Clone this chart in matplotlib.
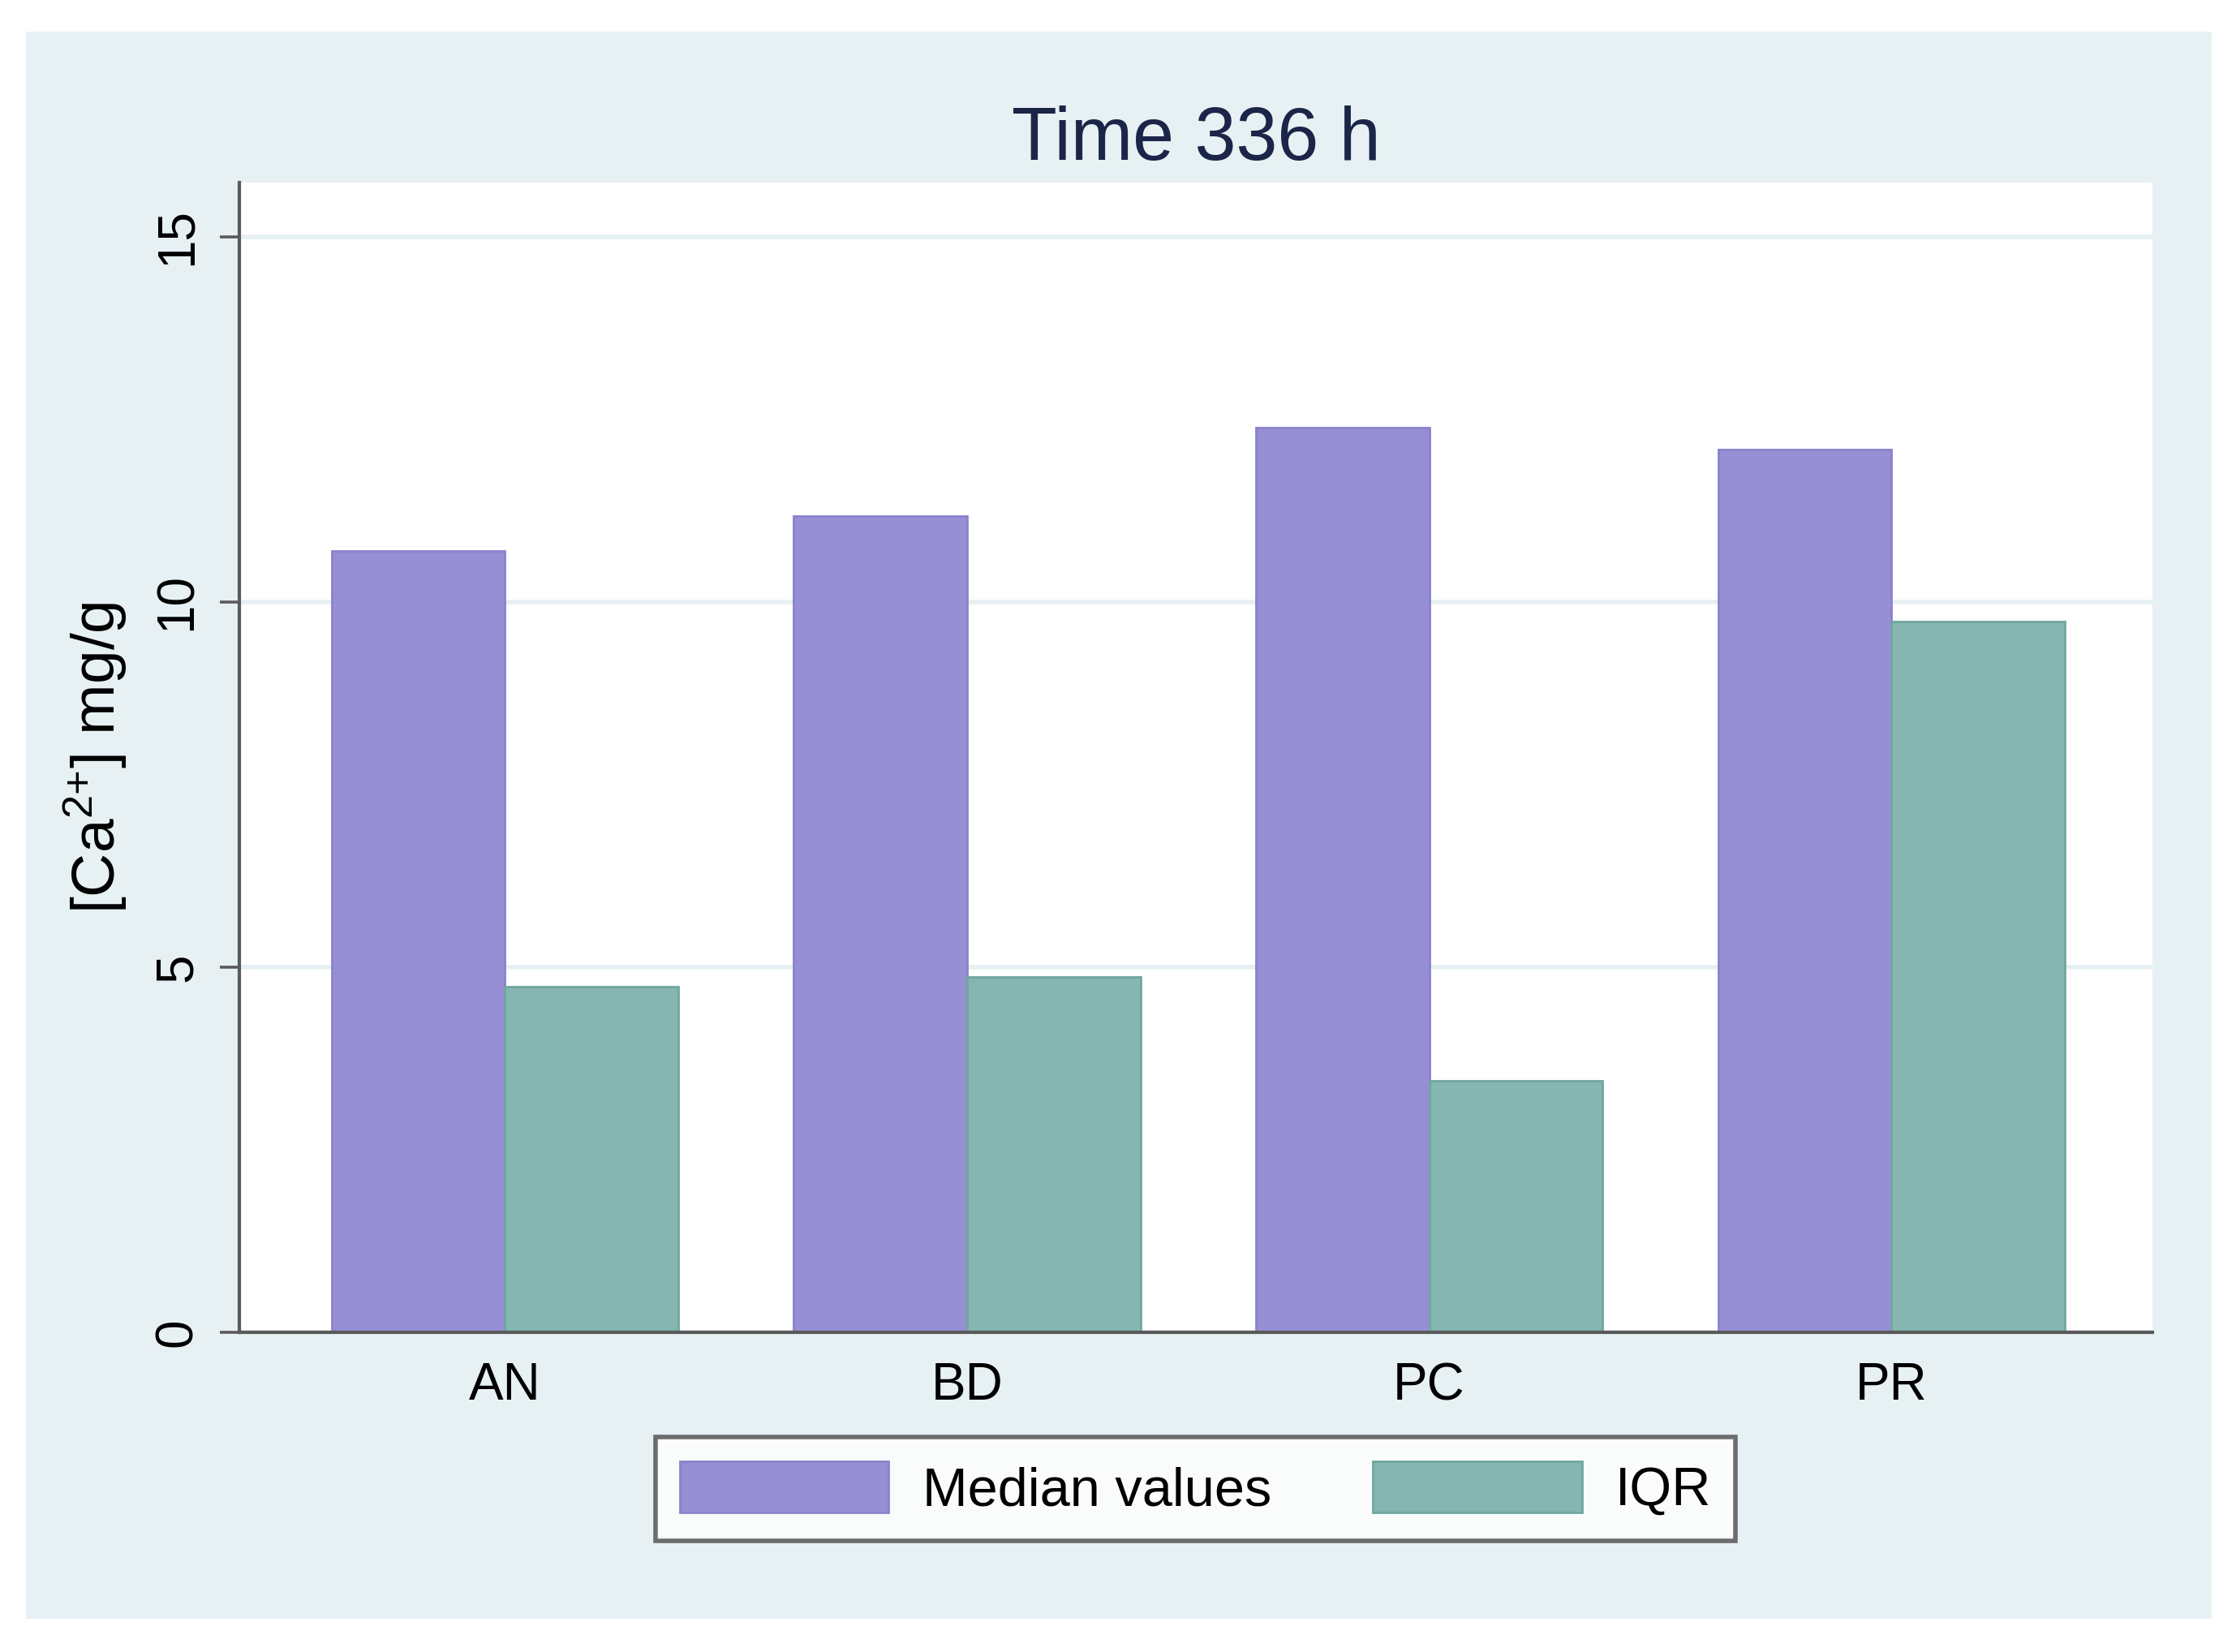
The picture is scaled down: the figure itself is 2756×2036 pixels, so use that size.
import numpy as np
import matplotlib
matplotlib.use("Agg")
import matplotlib.pyplot as plt
from matplotlib.patches import Rectangle

plt.rcParams['font.family'] = ['Liberation Sans', 'DejaVu Sans']
plt.rcParams['mathtext.default'] = 'regular'

# ===== data =====
categories = ['AN', 'BD', 'PC', 'PR']
median_values = [10.70, 11.17, 12.38, 12.09]
iqr_values = [4.73, 4.86, 3.44, 9.73]
series_labels = ['Median values', 'IQR']
y_ticks = [0, 5, 10, 15]

# ===== colours =====
bg_color = '#e7f1f3'
purple = '#978fd4'
teal = '#85b6b1'
spine_color = '#5a5a5a'

fig = plt.figure(figsize=(13.78, 10.18), dpi=200, facecolor='white')

# 外框背景（Stata 风格的浅蓝色图区）
fig.patches.append(Rectangle((0.0116, 0.0201), 0.9775, 0.9607,
                             transform=fig.transFigure, facecolor=bg_color,
                             edgecolor='none', zorder=-10))

ax = fig.add_axes([0.1070, 0.1935, 0.8556, 0.6960])
ax.set_facecolor('white')

x = np.arange(len(categories))
w = 0.375
b1 = ax.bar(x - w / 2, median_values, w, color=purple, edgecolor='#8a82cc',
            linewidth=1.0, label=series_labels[0], zorder=3)
b2 = ax.bar(x + w / 2, iqr_values, w, color=teal, edgecolor='#70a69f',
            linewidth=1.0, label=series_labels[1], zorder=3)

ax.set_xlim(-0.575, 3.565)
ax.set_ylim(0, 15.74)

ax.set_xticks(x)
ax.set_xticklabels(categories, fontsize=23)
ax.tick_params(axis='x', length=0, pad=13)

ax.set_yticks(y_ticks)
ax.set_yticklabels([str(t) for t in y_ticks], fontsize=23, rotation=90,
                   va='center')
ax.tick_params(axis='y', length=8.5, width=1.3, color=spine_color, pad=8)

# 网格线
ax.grid(axis='y', color='#e6f0f2', linewidth=2.0, zorder=0)
ax.set_axisbelow(True)

for s in ['top', 'right']:
    ax.spines[s].set_visible(False)
for s in ['left', 'bottom']:
    ax.spines[s].set_color(spine_color)
    ax.spines[s].set_linewidth(1.5)
    ax.spines[s].set_zorder(4)

ax.set_ylabel('[Ca$^{2{+}}$] mg/g', fontsize=27, labelpad=11)
ax.set_title('Time 336 h', fontsize=33, color='#1b2548', pad=10)

leg = fig.legend(handles=[b1, b2], labels=series_labels, loc='center',
                 bbox_to_anchor=(0.5347, 0.0987), ncol=2, fontsize=24,
                 frameon=True, fancybox=False, edgecolor='#4a4a4a',
                 handlelength=3.86, handleheight=1.07, handletextpad=0.62,
                 columnspacing=1.88, borderpad=0.45)
leg.get_frame().set_linewidth(2.0)
leg.get_frame().set_facecolor('white')

fig.savefig('out.png', dpi=200, facecolor='white')
